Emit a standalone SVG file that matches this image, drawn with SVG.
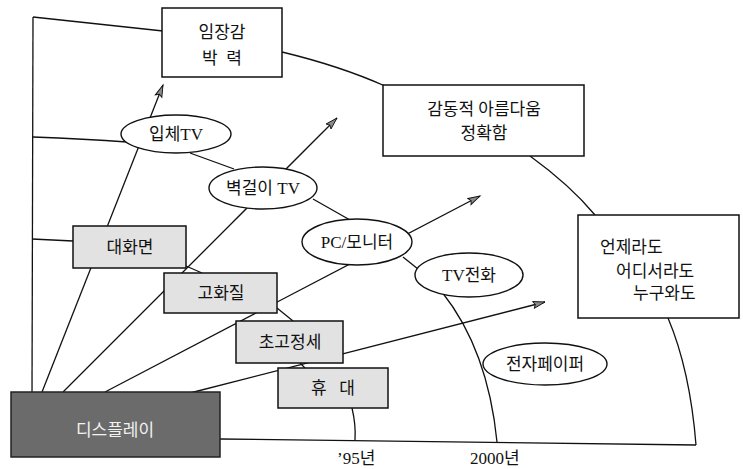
<svg xmlns="http://www.w3.org/2000/svg" width="743" height="469" viewBox="0 0 743 469">
<style>
.ln{fill:none;stroke:#111;stroke-width:1.3}
.bx{fill:#fff;stroke:#111;stroke-width:1.5}
.gb{fill:#e2e2e2;stroke:#111;stroke-width:1.5}
.el{fill:#fff;stroke:#111;stroke-width:1.4}
.t{font-family:"Liberation Serif","Noto Sans CJK KR",serif;font-size:17px;fill:#111;text-anchor:middle}
.tl{font-family:"Liberation Serif","Noto Sans CJK KR",serif;font-size:17px;fill:#111}
</style>
<defs>
<marker id="ah" markerUnits="userSpaceOnUse" markerWidth="16" markerHeight="12" refX="13" refY="5" orient="auto">
<path d="M1,1.5 L13,5 L1,8.5 L3,5 z" fill="#8a8a8a" stroke="#111" stroke-width="0.9"/>
</marker>
</defs>
<rect width="743" height="469" fill="#fff"/>
<g id="connectors">
<!-- axes -->
<path class="ln" d="M33,17 L32,393"/>
<path class="ln" d="M220,439 L696,445"/>
<!-- outer arc -->
<path class="ln" d="M33,17 L163,31"/>
<path class="ln" d="M282,52 Q340,66 385,86"/>
<path class="ln" d="M530,156 Q570,185 595,215"/>
<path class="ln" d="M668,318 Q690,370 696,445"/>
<!-- middle arc -->
<path class="ln" d="M33,137 Q85,139 127,142"/>
<path class="ln" d="M190,153 L234,169"/>
<path class="ln" d="M313,199 L350,220"/>
<path class="ln" d="M403,257 L418,269"/>
<path class="ln" d="M442,292 Q488,350 497,442"/>
<!-- inner arc -->
<path class="ln" d="M32,239 L73,241"/>
<path class="ln" d="M186,266 L202,273"/>
<path class="ln" d="M277,308 L293,321"/>
<path class="ln" d="M300,363 L305,368"/>
<path class="ln" d="M352,408 Q356,425 355,440"/>
<!-- rays -->
<path class="ln" d="M42,392 L163,85" marker-end="url(#ah)"/>
<path class="ln" d="M63,392 L337,118" marker-end="url(#ah)"/>
<path class="ln" d="M105,392 L480,196" marker-end="url(#ah)"/>
<path class="ln" d="M190,393 L545,302" marker-end="url(#ah)"/>
</g>
<g id="n-immersion">
<rect class="bx" x="162" y="8" width="120" height="69"/>
<text class="t" x="222" y="38">임장감</text>
<text class="t" x="222" y="64" xml:space="preserve">박  력</text>
</g>
<g id="n-beauty">
<rect class="bx" x="383" y="85" width="201" height="71"/>
<text class="t" x="484" y="115">감동적 아름다움</text>
<text class="t" x="484" y="139">정확함</text>
</g>
<g id="n-anywhere">
<rect class="bx" x="578" y="215" width="161" height="103"/>
<text class="tl" x="600" y="253">언제라도</text>
<text class="tl" x="616" y="277">어디서라도</text>
<text class="tl" x="633" y="299">누구와도</text>
</g>
<g id="n-3dtv">
<ellipse class="el" cx="176" cy="134" rx="55" ry="19"/>
<text class="t" x="176" y="140">입체TV</text>
</g>
<g id="n-walltv">
<ellipse class="el" cx="263" cy="188" rx="54" ry="21"/>
<text class="t" x="263" y="194">벽걸이 TV</text>
</g>
<g id="n-pc">
<ellipse class="el" cx="357" cy="242" rx="55" ry="23"/>
<text class="t" x="357" y="248">PC/모니터</text>
</g>
<g id="n-tvphone">
<ellipse class="el" cx="469" cy="275" rx="54" ry="22"/>
<text class="t" x="469" y="281">TV전화</text>
</g>
<g id="n-epaper">
<ellipse class="el" cx="545" cy="364" rx="62" ry="21"/>
<text class="t" x="545" y="370">전자페이퍼</text>
</g>
<g id="n-large">
<rect class="gb" x="73" y="226" width="113" height="42"/>
<text class="t" x="130" y="253">대화면</text>
</g>
<g id="n-hq">
<rect class="gb" x="164" y="273" width="113" height="40"/>
<text class="t" x="221" y="299">고화질</text>
</g>
<g id="n-uhd">
<rect class="gb" x="236" y="321" width="107" height="42"/>
<text class="t" x="290" y="348">초고정세</text>
</g>
<g id="n-portable">
<rect class="gb" x="278" y="368" width="110" height="40"/>
<text class="t" x="333" y="394" xml:space="preserve">휴   대</text>
</g>
<g id="n-display">
<rect x="11" y="392" width="209" height="65" fill="#6b6b6b" stroke="#222" stroke-width="1.5"/>
<text class="t" x="115" y="436" style="fill:#f2f2f2">디스플레이</text>
</g>
<g id="labels">
<text class="tl" x="337" y="464">’95년</text>
<text class="tl" x="470" y="464">2000년</text>
</g>
</svg>
